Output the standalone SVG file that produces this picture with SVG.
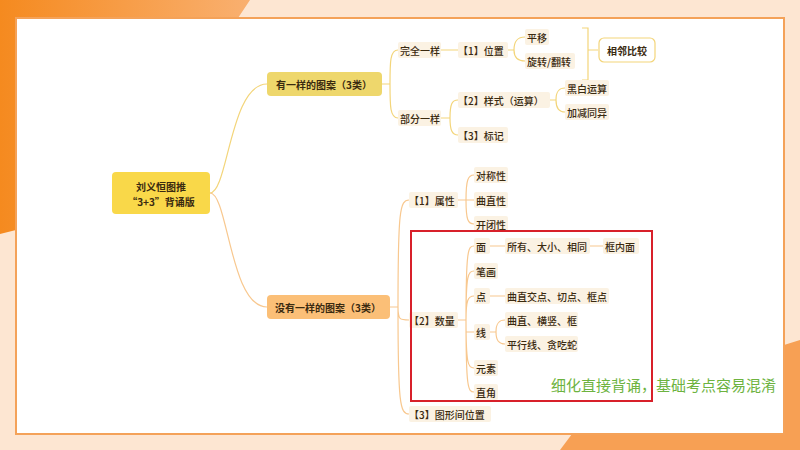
<svg xmlns="http://www.w3.org/2000/svg" width="800" height="450" viewBox="0 0 800 450">
<defs>
<style>
text{font-family:"Noto Sans CJK SC","Noto Sans",sans-serif;font-size:10px;font-weight:500;fill:#3a2a10;dominant-baseline:central}
.b{font-weight:bold}
.lab{fill:#fbf2e3}
.cy{fill:none;stroke:#f3d57a;stroke-width:1.2}
.co{fill:none;stroke:#f8c88f;stroke-width:1.2}
</style>
<linearGradient id="g1" x1="0" y1="0" x2="1" y2="0"><stop offset="0" stop-color="#f58a1f"/><stop offset="1" stop-color="#f9b070"/></linearGradient>
</defs>
<rect width="800" height="450" fill="#fde6d2"/>
<path d="M0 0H250L238 18H16V230L0 234Z" fill="url(#g1)"/>
<path d="M560 450L572 434H784V345L800 340V450Z" fill="#f7a054"/>
<rect x="16" y="18" width="768" height="416" fill="#fff" stroke="#f4a259" stroke-width="2"/>
<g id="connectors">
<path class="cy" d="M210 193C228 193 230 84 267 84"/>
<path class="co" d="M210 193C228 193 230 307 267 307"/>
<path class="cy" d="M382 84H390M390 84C390 62 390 50 398 50M390 84C390 106 390 118 398 118"/>
<path class="cy" d="M441 50H458M508 50H514C514 40 518 37 525 37M514 50C514 58 518 61 525 61"/>
<path class="cy" d="M582 28H588V80H582M588 50H598"/>
<path class="cy" d="M441 118H450C450 104 452 100 458 100M450 118C450 130 452 135 458 135"/>
<path class="cy" d="M550 100H556C556 91 559 88 565 88M556 100C556 108 559 112 565 112"/>
<path class="co" d="M390 307H398M398 307C398 210 400 200 409 200M398 307C398 320 400 320 409 320M398 307C398 404 400 414 409 414"/>
<path class="co" d="M458 200H474M466 200C466 180 468 175 474 175M466 200C466 220 468 224 474 224"/>
<path class="co" d="M458 320H466M466 320C466 250 468 246 474 246M466 320C466 275 468 271 474 271M466 320C466 300 468 296 474 296M466 320V332H474M466 320C466 364 468 368 474 368M466 320C466 388 468 392 474 392"/>
<path class="co" d="M490 246H505M590 246H603M490 296H505M490 332H496C496 323 499 320 505 320M496 332C496 341 499 344 505 344"/>
</g>
<g id="root"><rect x="112" y="172" width="98" height="42" rx="4" fill="#f9d849"/><text class="b" x="161" y="186" text-anchor="middle">刘义恒图推</text><text class="b" x="161" y="201" text-anchor="middle">“3+3”背诵版</text></g>
<g id="n1"><rect x="267" y="72" width="115" height="24" rx="4" fill="#eed76c"/><text class="b" x="324" y="84" text-anchor="middle">有一样的图案（3类）</text></g>
<g id="n2"><rect x="267" y="295" width="123" height="24" rx="4" fill="#fbbf77"/><text class="b" x="328" y="307" text-anchor="middle">没有一样的图案（3类）</text></g>
<g id="n3"><rect class="lab" x="398" y="42" width="43" height="16" rx="2"/><text x="400" y="50">完全一样</text></g>
<g id="n4"><rect class="lab" x="458" y="42" width="50" height="16" rx="2"/><text x="458" y="50">【1】位置</text></g>
<g id="n5"><rect class="lab" x="525" y="29" width="24" height="16" rx="2"/><text x="527" y="37">平移</text></g>
<g id="n6"><rect class="lab" x="525" y="53" width="50" height="16" rx="2"/><text x="527" y="61">旋转/翻转</text></g>
<g id="n7"><rect x="599" y="38" width="56" height="24" rx="5" fill="#fff" stroke="#f3d57a" stroke-width="1.2"/><text class="b" x="627" y="50" text-anchor="middle">相邻比较</text></g>
<g id="n8"><rect class="lab" x="398" y="110" width="43" height="16" rx="2"/><text x="400" y="118">部分一样</text></g>
<g id="n9"><rect class="lab" x="458" y="92" width="92" height="16" rx="2"/><text x="458" y="100">【2】样式（运算）</text></g>
<g id="n10"><rect class="lab" x="565" y="80" width="44" height="16" rx="2"/><text x="567" y="88">黑白运算</text></g>
<g id="n11"><rect class="lab" x="565" y="104" width="44" height="16" rx="2"/><text x="567" y="112">加减同异</text></g>
<g id="n12"><rect class="lab" x="458" y="127" width="50" height="16" rx="2"/><text x="458" y="135">【3】标记</text></g>
<g id="n13"><rect class="lab" x="409" y="192" width="49" height="16" rx="2"/><text x="409" y="200">【1】属性</text></g>
<g id="n14"><rect class="lab" x="474" y="167" width="34" height="16" rx="2"/><text x="476" y="175">对称性</text></g>
<g id="n15"><rect class="lab" x="474" y="192" width="34" height="16" rx="2"/><text x="476" y="200">曲直性</text></g>
<g id="n16"><rect class="lab" x="474" y="216" width="34" height="16" rx="2"/><text x="476" y="224">开闭性</text></g>
<g id="n17"><rect class="lab" x="409" y="312" width="49" height="16" rx="2"/><text x="409" y="320">【2】数量</text></g>
<g id="n18"><rect class="lab" x="474" y="238" width="16" height="16" rx="2"/><text x="476" y="246">面</text></g>
<g id="n19"><rect class="lab" x="505" y="238" width="85" height="16" rx="2"/><text x="507" y="246">所有、大小、相同</text></g>
<g id="n20"><rect class="lab" x="603" y="238" width="36" height="16" rx="2"/><text x="605" y="246">框内面</text></g>
<g id="n21"><rect class="lab" x="474" y="263" width="24" height="16" rx="2"/><text x="476" y="271">笔画</text></g>
<g id="n22"><rect class="lab" x="474" y="288" width="16" height="16" rx="2"/><text x="476" y="296">点</text></g>
<g id="n23"><rect class="lab" x="505" y="288" width="104" height="16" rx="2"/><text x="507" y="296">曲直交点、切点、框点</text></g>
<g id="n24"><rect class="lab" x="474" y="324" width="16" height="16" rx="2"/><text x="476" y="332">线</text></g>
<g id="n25"><rect class="lab" x="505" y="312" width="73" height="16" rx="2"/><text x="507" y="320">曲直、横竖、框</text></g>
<g id="n26"><rect class="lab" x="505" y="336" width="73" height="16" rx="2"/><text x="507" y="344">平行线、贪吃蛇</text></g>
<g id="n27"><rect class="lab" x="474" y="360" width="24" height="16" rx="2"/><text x="476" y="368">元素</text></g>
<g id="n28"><rect class="lab" x="474" y="384" width="24" height="16" rx="2"/><text x="476" y="392">直角</text></g>
<g id="n29"><rect class="lab" x="409" y="406" width="82" height="16" rx="2"/><text x="409" y="414">【3】图形间位置</text></g>
<rect x="411" y="231" width="241" height="170" fill="none" stroke="#d8202a" stroke-width="2"/>
<text x="551" y="384" style="font-size:15px;font-weight:400;fill:#6db33f">细化直接背诵，基础考点容易混淆</text>
</svg>
